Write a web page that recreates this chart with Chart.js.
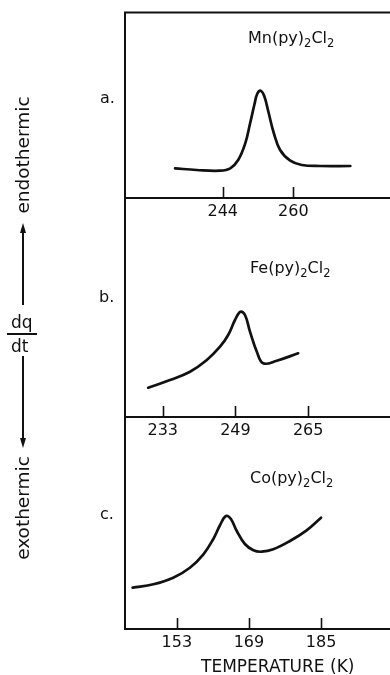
<!DOCTYPE html>
<html>
<head>
<meta charset="utf-8">
<script src="https://cdn.jsdelivr.net/npm/chart.js@4/dist/chart.umd.min.js"></script>
<style>
  html, body { margin:0; padding:0; background:#fff; }
  body { width:390px; height:675px; position:relative; overflow:hidden; font-family:"DejaVu Sans", sans-serif; color:#111; }
  .panel { position:absolute; left:0; width:390px; }
  .txt { position:absolute; white-space:nowrap; line-height:16px; font-size:16px; }
  .sub { font-size:11.5px; position:relative; top:4px; }
  .rot { position:absolute; white-space:nowrap; font-size:18.5px; line-height:19px; transform:translate(-50%,-50%) rotate(-90deg); }
  .shaft { position:absolute; width:2px; background:#111; }
  .headUp { position:absolute; width:0; height:0; border-left:3.5px solid transparent; border-right:3.5px solid transparent; border-bottom:10px solid #111; }
  .headDn { position:absolute; width:0; height:0; border-left:3.5px solid transparent; border-right:3.5px solid transparent; border-top:10px solid #111; }
</style>
</head>
<body>
<div class="panel" style="top:0;height:240px;"><canvas id="ca"></canvas></div>
<div class="panel" style="top:198px;height:260px;"><canvas id="cb"></canvas></div>
<div class="panel" style="top:417px;height:258px;"><canvas id="cc"></canvas></div>

<div class="txt" style="left:248px;top:30px;">Mn(py)<span class="sub">2</span>Cl<span class="sub">2</span></div>
<div class="txt" style="left:250px;top:260px;">Fe(py)<span class="sub">2</span>Cl<span class="sub">2</span></div>
<div class="txt" style="left:250px;top:470px;">Co(py)<span class="sub">2</span>Cl<span class="sub">2</span></div>

<div class="txt" style="left:100px;top:90px;">a.</div>
<div class="txt" style="left:99px;top:289px;">b.</div>
<div class="txt" style="left:100px;top:506px;">c.</div>

<div class="txt" style="left:201px;top:658px;font-size:17px;">TEMPERATURE (K)</div>

<div class="rot" style="left:22px;top:155px;">endothermic</div>
<div class="headUp" style="left:19.5px;top:223px;"></div>
<div class="shaft" style="left:22px;top:231px;height:74px;"></div>
<div class="txt" style="left:11px;top:314px;font-size:17px;">dq</div>
<div class="shaft" style="left:7px;top:333px;width:30px;height:2px;"></div>
<div class="txt" style="left:11px;top:338px;font-size:17px;">dt</div>
<div class="shaft" style="left:22px;top:356px;height:84px;"></div>
<div class="headDn" style="left:19.5px;top:438px;"></div>
<div class="rot" style="left:22px;top:508px;">exothermic</div>

<script>
// ---- data (temperature in K, dq/dt in arbitrary units) ----
const tempA = [233.2, 238.1, 243.4, 245.7, 247.5, 249.1, 250.2, 251.2, 251.8, 252.6, 253.4, 254.3, 255.5, 257.0, 259.3, 261.9, 266.1, 272.9];
const dqA   = [29.7, 28.0, 27.3, 29.7, 38.0, 54.7, 74.7, 94.0, 104.0, 107.3, 102.0, 87.0, 66.0, 48.0, 37.3, 33.0, 32.0, 32.0];
const ticksA = [244, 260];

const tempB = [229.8, 234.6, 239.0, 242.7, 245.6, 247.4, 248.9, 250.1, 251.1, 252.2, 253.7, 255.1, 258.1, 262.8];
const dqB   = [29.3, 37.0, 45.3, 57.0, 70.3, 82.0, 97.0, 105.3, 102.0, 85.3, 65.3, 53.7, 56.3, 63.7];
const ticksB = [233, 249, 265];

const tempC = [143.2, 147.8, 152.2, 155.9, 158.9, 161.1, 162.6, 163.9, 165.0, 166.3, 168.1, 170.0, 171.8, 174.4, 178.1, 181.8, 185.0];
const dqC   = [41.3, 44.7, 51.3, 61.3, 74.7, 90.0, 104.0, 113.0, 110.0, 98.0, 85.0, 78.7, 77.3, 79.7, 88.0, 98.7, 111.3];
const ticksC = [153, 169, 185];

const INK = '#111';

const innerTicks = {
  id: 'innerTicks',
  afterDraw(chart, args, opts) {
    const {ctx, chartArea} = chart;
    const xs = chart.scales.x;
    ctx.save();
    ctx.strokeStyle = INK;
    ctx.lineWidth = 1.6;
    xs.ticks.forEach(t => {
      const px = Math.round(xs.getPixelForValue(t.value)) + 0.5;
      ctx.beginPath();
      ctx.moveTo(px, chartArea.bottom);
      ctx.lineTo(px, chartArea.bottom - 11);
      ctx.stroke();
    });
    if (opts && opts.topBorder) {
      ctx.lineWidth = 2;
      ctx.beginPath();
      ctx.moveTo(chartArea.left - 1, chartArea.top);
      ctx.lineTo(chartArea.right, chartArea.top);
      ctx.stroke();
    }
    ctx.restore();
  }
};

function makeChart(id, temps, vals, ticks, xmin, xmax, ymax, padTop, axisH, topBorder) {
  const pts = temps.map((t, i) => ({x: t, y: vals[i]}));
  return new Chart(document.getElementById(id), {
    type: 'line',
    data: { datasets: [{ data: pts, borderColor: INK, borderWidth: 2.7, pointRadius: 0, fill: false, tension: 0.4, borderCapStyle: 'round', borderJoinStyle: 'round' }] },
    options: {
      responsive: true, maintainAspectRatio: false, animation: false,
      layout: { padding: { left: 125, right: 0, top: padTop, bottom: 0 } },
      plugins: { legend: { display: false }, tooltip: { enabled: false }, innerTicks: { topBorder } },
      scales: {
        x: {
          type: 'linear', min: xmin, max: xmax,
          afterBuildTicks: s => { s.ticks = ticks.map(v => ({ value: v })); },
          afterFit: s => { s.height = axisH; },
          grid: { display: false },
          border: { display: true, color: INK, width: 2 },
          ticks: { color: INK, padding: -4, maxRotation: 0, autoSkip: false, font: { family: 'DejaVu Sans', size: 16 } }
        },
        y: {
          min: 0, max: ymax,
          afterFit: s => { s.width = 0; },
          grid: { display: false },
          border: { display: true, color: INK, width: 2 },
          ticks: { display: false }
        }
      }
    },
    plugins: [innerTicks]
  });
}

makeChart('ca', tempA, dqA, ticksA, 221.85, 281.9, 185.5, 12.5, 42, true);
makeChart('cb', tempB, dqB, ticksB, 224.7, 283.0, 219, 0, 41, false);
makeChart('cc', tempC, dqC, ticksC, 141.5, 200.3, 212, 0, 46, false);
</script>
</body>
</html>
